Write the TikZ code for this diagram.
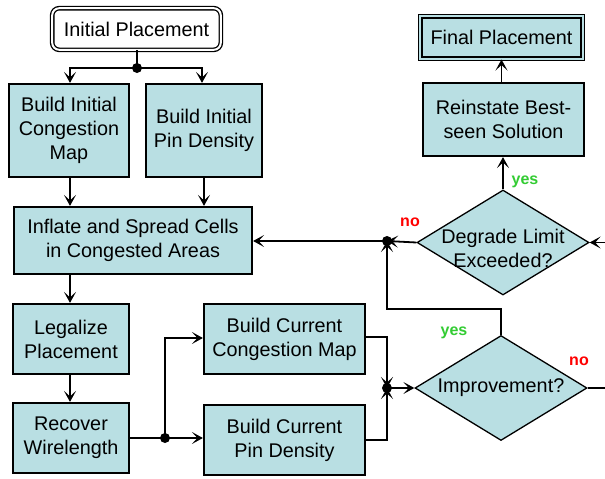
\documentclass[tikz,border=0pt]{standalone}
\usepackage{fontspec}
\setmainfont{Liberation Sans}
\usetikzlibrary{shapes.geometric,arrows.meta,calc}
\definecolor{boxfill}{RGB}{185,223,227}
\definecolor{yesgreen}{RGB}{51,204,51}
\definecolor{nored}{RGB}{255,0,0}
\newcommand\mainfs{\fontsize{19.8}{24}\selectfont}
\newcommand\lblfs{\fontsize{16}{18}\selectfont\bfseries}
\begin{document}
\begin{tikzpicture}[x=1pt,y=-1pt,
  procbox/.style={draw=black, line width=2.2pt, fill=boxfill, align=center, inner sep=0pt, font=\mainfs},
  startbox/.style={draw=black, line width=1.3pt, double=white, double distance=2pt, rounded corners=7pt, fill=white, align=center, inner sep=0pt, font=\mainfs},
  endbox/.style={draw=black, line width=1.4pt, double=boxfill, double distance=2pt, fill=boxfill, align=center, inner sep=0pt, font=\mainfs},
  decision/.style={diamond, draw=black, line width=1.3pt, fill=boxfill, inner sep=0pt, minimum width=172pt, minimum height=105pt},
  dtext/.style={align=center, inner sep=0pt, font=\mainfs},
  conn/.style={line width=1.8pt, -{Stealth[length=11pt,width=12pt,inset=5.5pt]}},
  plain/.style={line width=1.8pt},
  yeslbl/.style={text=yesgreen, font=\lblfs, inner sep=0pt},
  nolbl/.style={text=nored, font=\lblfs, inner sep=0pt},
  dotstyle/.style={fill=black}
]
\useasboundingbox (0,0) rectangle (605,479);
\fill[white] (0,0) rectangle (605,479);

% nodes
\node[startbox, minimum width=168.6pt, minimum height=41.6pt] (init) at (136.5,29) {Initial Placement};
\node[procbox, minimum width=120pt, minimum height=93pt] (bicm) at (69,130.5) {Build Initial\\Congestion\\Map};
\node[procbox, minimum width=116pt, minimum height=93pt] (bipd) at (204,130.5) {Build Initial\\Pin Density};
\node[procbox, minimum width=238pt, minimum height=67pt] (infl) at (133,240.5) {Inflate and Spread Cells\\in Congested Areas};
\node[procbox, minimum width=116pt, minimum height=70pt] (legal) at (71,339) {Legalize\\Placement};
\node[procbox, minimum width=116pt, minimum height=70pt] (recov) at (71,438) {Recover\\Wirelength};
\node[procbox, minimum width=161pt, minimum height=70pt] (bccm) at (284.5,339) {Build Current\\Congestion Map};
\node[procbox, minimum width=161pt, minimum height=70pt] (bcpd) at (284.5,440) {Build Current\\Pin Density};
\node[decision] (impr) at (501,388) {};
\node[dtext] (imprt) at (501,388) {Improvement?};
\node[decision] (degr) at (503,242.5) {};
\node[dtext] (degrt) at (503,248) {Degrade Limit\\Exceeded?};
\node[procbox, minimum width=161pt, minimum height=73pt] (reins) at (503.5,119.5) {Reinstate Best-\\seen Solution};
\node[endbox, minimum width=162.6pt, minimum height=42.6pt] (final) at (501.5,37.5) {Final Placement};

% junction coordinates
\coordinate (j1) at (137,68);
\coordinate (j2) at (165,438);
\coordinate (j3) at (387,388);
\coordinate (j4) at (387,241);
\coordinate (loop) at (387,309);
\coordinate (degin) at (610,242.5);
\coordinate (improut) at (610,388);

% connectors
\draw[plain] (init.south -| j1) -- (j1);
\draw[conn] (j1) -| (bicm.north -| 70,0);
\draw[conn] (j1) -| (bipd.north -| 202,0);
\draw[conn] (bicm.south -| 70,0) -- (infl.north -| 70,0);
\draw[conn] (bipd.south -| 204,0) -- (infl.north -| 204,0);
\draw[conn] (infl.south -| 70,0) -- (legal.north -| 70,0);
\draw[conn] (legal.south -| 70,0) -- (recov.north -| 70,0);
\draw[plain] (recov.east |- j2) -- (j2);
\draw[conn] (j2) -- (bcpd.west |- j2);
\draw[conn] (j2) |- (bccm.west |- 0,338);
\draw[conn] (bccm.east |- 0,337) -| (j3);
\draw[conn] (bcpd.east |- 0,440) -| (j3);
\draw[conn] (j3) -- (impr.west);
\draw[conn] (impr.north) |- (loop) -- (j4);
\draw[conn] (degr.west) -- (j4);
\draw[conn] (j4) -- (infl.east |- j4);
\draw[conn] (degr.north) -- (reins.south -| degr.north);
\draw[conn] (reins.north -| final.south) -- (final.south);
\draw[conn] (degin) -- (degr.east);
\draw[plain] (impr.east) -- (improut);

% dots
\fill[dotstyle] (j1) circle (5pt);
\fill[dotstyle] (j2) circle (5pt);
\fill[dotstyle] (j3) circle (5pt);
\fill[dotstyle] (j4) circle (5pt);

% labels
\node[nolbl] (no1) at (410,222) {no};
\node[yeslbl] (yes1) at (525,182) {yes};
\node[yeslbl] (yes2) at (454,333) {yes};
\node[nolbl] (no2) at (579,361) {no};
\end{tikzpicture}
\end{document}
